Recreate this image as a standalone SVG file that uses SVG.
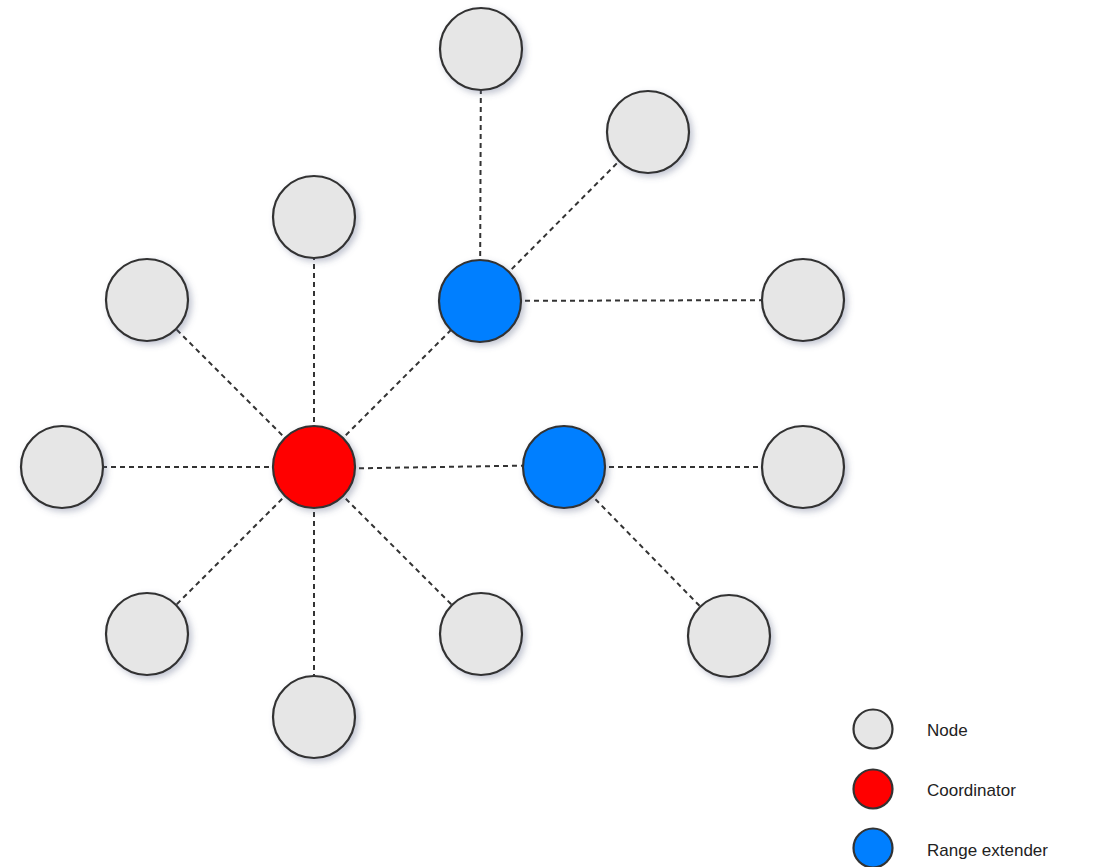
<svg xmlns="http://www.w3.org/2000/svg" width="1119" height="867" viewBox="0 0 1119 867">
  <style>
    .link { stroke: #333333; stroke-width: 2; stroke-dasharray: 5 4; fill: none; }
    .node { stroke: #333333; stroke-width: 2.2; }
    .plain { fill: #e6e6e6; }
    .coord { fill: #ff0000; }
    .ext { fill: #007fff; }
    .label { font-family: "Liberation Sans", Arial, sans-serif; font-size: 17px; fill: #222222; }
  </style>
  <defs>
    <filter id="shadow" x="-30%" y="-30%" width="160%" height="160%">
      <feDropShadow dx="3" dy="3" stdDeviation="3" flood-color="#556080" flood-opacity="0.35"/>
    </filter>
  </defs>
  <rect width="1119" height="867" fill="#ffffff"/>

  <!-- connectors -->
  <g id="connectors">
    <line class="link" x1="314" y1="467" x2="314" y2="217"/>
    <line class="link" x1="314" y1="467" x2="147" y2="300"/>
    <line class="link" x1="314" y1="467" x2="62" y2="467"/>
    <line class="link" x1="314" y1="467" x2="147" y2="634"/>
    <line class="link" x1="314" y1="467" x2="314" y2="717"/>
    <line class="link" x1="314" y1="467" x2="481" y2="634"/>
    <line class="link" x1="314" y1="467" x2="480" y2="301"/>
    <line class="link" x1="314" y1="469" x2="564" y2="465"/>
    <line class="link" x1="480" y1="301" x2="481" y2="49"/>
    <line class="link" x1="480" y1="301" x2="648" y2="132"/>
    <line class="link" x1="480" y1="301" x2="803" y2="300"/>
    <line class="link" x1="564" y1="467" x2="803" y2="467"/>
    <line class="link" x1="564" y1="467" x2="729" y2="636"/>
  </g>

  <!-- network nodes -->
  <g id="node-top" filter="url(#shadow)"><circle class="node plain" cx="481" cy="49" r="41"/></g>
  <g id="node-upper-right" filter="url(#shadow)"><circle class="node plain" cx="648" cy="132" r="41"/></g>
  <g id="node-north" filter="url(#shadow)"><circle class="node plain" cx="314" cy="217" r="41"/></g>
  <g id="node-northwest" filter="url(#shadow)"><circle class="node plain" cx="147" cy="300" r="41"/></g>
  <g id="node-east-upper" filter="url(#shadow)"><circle class="node plain" cx="803" cy="300" r="41"/></g>
  <g id="node-west" filter="url(#shadow)"><circle class="node plain" cx="62" cy="467" r="41"/></g>
  <g id="node-east" filter="url(#shadow)"><circle class="node plain" cx="803" cy="467" r="41"/></g>
  <g id="node-southwest" filter="url(#shadow)"><circle class="node plain" cx="147" cy="634" r="41"/></g>
  <g id="node-southeast" filter="url(#shadow)"><circle class="node plain" cx="481" cy="634" r="41"/></g>
  <g id="node-far-southeast" filter="url(#shadow)"><circle class="node plain" cx="729" cy="636" r="41"/></g>
  <g id="node-south" filter="url(#shadow)"><circle class="node plain" cx="314" cy="717" r="41"/></g>

  <g id="extender-upper" filter="url(#shadow)"><circle class="node ext" cx="480" cy="301" r="41"/></g>
  <g id="extender-right" filter="url(#shadow)"><circle class="node ext" cx="564" cy="467" r="41"/></g>
  <g id="coordinator" filter="url(#shadow)"><circle class="node coord" cx="314" cy="467" r="41"/></g>

  <!-- legend -->
  <g id="legend">
    <g id="legend-node">
      <circle class="node plain" cx="873" cy="729" r="19.5"/>
      <text class="label" x="927" y="736">Node</text>
    </g>
    <g id="legend-coordinator">
      <circle class="node coord" cx="873" cy="789" r="19.5"/>
      <text class="label" x="927" y="796">Coordinator</text>
    </g>
    <g id="legend-extender">
      <circle class="node ext" cx="873" cy="848" r="19.5"/>
      <text class="label" x="927" y="856">Range extender</text>
    </g>
  </g>
</svg>
